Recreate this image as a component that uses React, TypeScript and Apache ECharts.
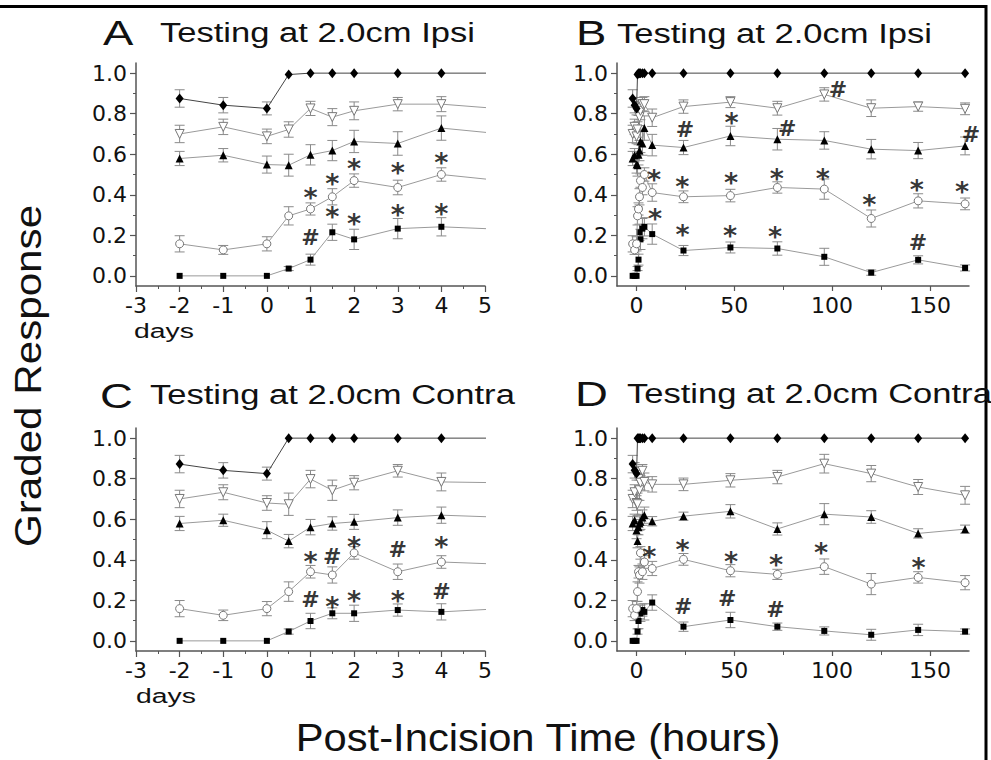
import React, { useEffect, useRef } from "react";
import * as echarts from "echarts";

// ---- data ----
const hours = [-2, -1, 0, 0.5, 1, 1.5, 2, 3, 4, 8, 24, 48, 72, 96, 120, 144, 168];

const ipsiDiamond = [0.875, 0.842, 0.826, 0.993, 1, 1, 1, 1, 1, 1, 1, 1, 1, 1, 1, 1, 1];
const ipsiDiamondErr = [0.043, 0.038, 0.032, 0, 0, 0, 0, 0, 0, 0, 0, 0, 0, 0, 0, 0, 0];
const ipsiInvTri = [0.70, 0.735, 0.688, 0.722, 0.826, 0.783, 0.814, 0.847, 0.847, 0.78, 0.835, 0.857, 0.827, 0.895, 0.827, 0.835, 0.824];
const ipsiInvTriErr = [0.043, 0.038, 0.036, 0.038, 0.035, 0.042, 0.044, 0.033, 0.037, 0.043, 0.033, 0.027, 0.034, 0.033, 0.041, 0.023, 0.029];
const ipsiTri = [0.579, 0.595, 0.549, 0.546, 0.597, 0.618, 0.663, 0.653, 0.729, 0.645, 0.633, 0.69, 0.674, 0.668, 0.625, 0.618, 0.641];
const ipsiTriErr = [0.035, 0.033, 0.042, 0.054, 0.05, 0.05, 0.055, 0.058, 0.06, 0.053, 0.035, 0.048, 0.053, 0.043, 0.048, 0.04, 0.044];
const ipsiCircle = [0.158, 0.128, 0.158, 0.296, 0.33, 0.39, 0.47, 0.436, 0.50, 0.411, 0.39, 0.396, 0.436, 0.428, 0.283, 0.37, 0.355];
const ipsiCircleErr = [0.04, 0.022, 0.035, 0.045, 0.03, 0.04, 0.033, 0.036, 0.033, 0.043, 0.029, 0.031, 0.028, 0.05, 0.042, 0.035, 0.029];
const ipsiSquare = [0, 0, 0, 0.036, 0.08, 0.215, 0.18, 0.233, 0.242, 0.206, 0.125, 0.14, 0.135, 0.094, 0.016, 0.079, 0.039];
const ipsiSquareErr = [0, 0, 0, 0.01, 0.027, 0.04, 0.05, 0.05, 0.045, 0.05, 0.025, 0.027, 0.033, 0.042, 0.013, 0.02, 0.015];

const contraDiamond = [0.872, 0.841, 0.825, 1, 1, 1, 1, 1, 1, 1, 1, 1, 1, 1, 1, 1, 1];
const contraDiamondErr = [0.043, 0.038, 0.032, 0, 0, 0, 0, 0, 0, 0, 0, 0, 0, 0, 0, 0, 0];
const contraInvTri = [0.70, 0.733, 0.68, 0.674, 0.798, 0.743, 0.78, 0.839, 0.784, 0.772, 0.772, 0.792, 0.808, 0.874, 0.825, 0.759, 0.718];
const contraInvTriErr = [0.043, 0.037, 0.036, 0.055, 0.043, 0.05, 0.035, 0.031, 0.044, 0.038, 0.031, 0.033, 0.033, 0.046, 0.04, 0.037, 0.044];
const contraTri = [0.579, 0.595, 0.546, 0.492, 0.561, 0.579, 0.587, 0.608, 0.62, 0.59, 0.615, 0.639, 0.552, 0.625, 0.611, 0.53, 0.551];
const contraTriErr = [0.035, 0.03, 0.042, 0.033, 0.038, 0.033, 0.037, 0.038, 0.04, 0.023, 0.02, 0.033, 0.03, 0.052, 0.031, 0.023, 0.02];
const contraCircle = [0.159, 0.126, 0.159, 0.243, 0.341, 0.325, 0.434, 0.341, 0.389, 0.357, 0.402, 0.346, 0.328, 0.366, 0.28, 0.313, 0.287];
const contraCircleErr = [0.04, 0.026, 0.035, 0.048, 0.031, 0.04, 0.031, 0.038, 0.031, 0.035, 0.029, 0.03, 0.025, 0.038, 0.052, 0.028, 0.035];
const contraSquare = [0, 0, 0, 0.046, 0.098, 0.136, 0.136, 0.152, 0.143, 0.189, 0.07, 0.103, 0.07, 0.049, 0.03, 0.054, 0.046];
const contraSquareErr = [0, 0, 0, 0.013, 0.038, 0.027, 0.04, 0.03, 0.04, 0.038, 0.023, 0.038, 0.018, 0.02, 0.027, 0.028, 0.013];

// significance marks: [x, y, symbol]
const annotA: [number, number, string][] = [
  [1, 0.413, "*"], [1.5, 0.479, "*"], [2, 0.553, "*"], [3, 0.535, "*"], [4, 0.584, "*"],
  [1, 0.191, "#"], [1.5, 0.317, "*"], [2, 0.281, "*"], [3, 0.326, "*"], [4, 0.331, "*"],
];
const annotB: [number, number, string][] = [
  [103, 0.921, "#"], [48.6, 0.783, "*"], [24.7, 0.72, "#"], [77, 0.729, "#"], [171, 0.696, "#"],
  [8.9, 0.498, "*"], [23.4, 0.465, "*"], [48.3, 0.485, "*"], [71.7, 0.507, "*"], [95.2, 0.507, "*"],
  [119, 0.375, "*"], [143.3, 0.449, "*"], [166.4, 0.441, "*"],
  [9.4, 0.309, "*"], [23.5, 0.23, "*"], [47.8, 0.224, "*"], [70.8, 0.219, "*"], [143.9, 0.166, "#"],
];
const annotC: [number, number, string][] = [
  [1, 0.415, "*"], [1.5, 0.418, "#"], [2, 0.489, "*"], [3, 0.451, "#"], [4, 0.489, "*"],
  [1, 0.202, "#"], [1.5, 0.193, "*"], [2, 0.226, "*"], [3, 0.226, "*"], [4, 0.243, "#"],
];
const annotD: [number, number, string][] = [
  [6.5, 0.439, "*"], [23.5, 0.477, "*"], [48.3, 0.418, "*"], [71.3, 0.402, "*"], [94.4, 0.461, "*"], [144.2, 0.385, "*"],
  [23.9, 0.169, "#"], [46.4, 0.21, "#"], [71, 0.156, "#"],
];

const yMajor = [0, 0.2, 0.4, 0.6, 0.8, 1.0];
const yMinor = [0.1, 0.3, 0.5, 0.7, 0.9];
const hourMajor = [0, 50, 100, 150];
const hourMinor = [25, 75, 125];

const titles = ["Testing at 2.0cm Ipsi", "Testing at 2.0cm Ipsi", "Testing at 2.0cm Contra", "Testing at 2.0cm Contra"];
const letters = ["A", "B", "C", "D"];

// ---- styles ----
const markerStyles = [
  { symbol: "rect", size: 6, fill: "#000", stroke: "#000", line: "#9a9a9a", rotate: 0 },
  { symbol: "circle", size: 8, fill: "#fff", stroke: "#777", line: "#9a9a9a", rotate: 0 },
  { symbol: "triangle", size: 8, fill: "#000", stroke: "#000", line: "#9a9a9a", rotate: 0 },
  { symbol: "triangle", size: 9, fill: "#fff", stroke: "#777", line: "#9a9a9a", rotate: 180 },
  { symbol: "diamond", size: [8, 10], fill: "#000", stroke: "#000", line: "#444", rotate: 0 },
];

const ipsiSets = [
  [ipsiSquare, ipsiSquareErr], [ipsiCircle, ipsiCircleErr], [ipsiTri, ipsiTriErr],
  [ipsiInvTri, ipsiInvTriErr], [ipsiDiamond, ipsiDiamondErr],
];
const contraSets = [
  [contraSquare, contraSquareErr], [contraCircle, contraCircleErr], [contraTri, contraTriErr],
  [contraInvTri, contraInvTriErr], [contraDiamond, contraDiamondErr],
];

const AX = "#555";
const TICKFONT = "DejaVu Sans";
const BIGFONT = "Liberation Sans";

export default function App() {
  const ref = useRef<HTMLDivElement>(null);
  useEffect(() => {
    if (!ref.current) return;
    const chart = echarts.init(ref.current, undefined, { renderer: "svg" });

    const grids = [
      { left: 136, top: 63, width: 349, height: 223 },
      { left: 617, top: 63, width: 352, height: 223 },
      { left: 136, top: 428, width: 349, height: 223 },
      { left: 617, top: 428, width: 352, height: 223 },
    ];

    const axisLine = { show: true, onZero: false, lineStyle: { color: AX, width: 1.5 } };
    const noLine = { show: false, onZero: false };
    const labelBase = { fontSize: 22, fontFamily: TICKFONT, color: "#111" };

    const xAxis: any[] = [];
    const yAxis: any[] = [];
    const panels: any[] = [];

    grids.forEach((g, gi) => {
      const isDays = gi === 0 || gi === 2;
      let xMain: number;
      if (isDays) {
        xMain = xAxis.length;
        xAxis.push({
          type: "value", gridIndex: gi, position: "bottom", min: -3, max: 5, interval: 1,
          axisLine, axisTick: { show: true, length: 6, lineStyle: { color: AX, width: 1.2 } },
          minorTick: { show: true, splitNumber: 2, length: 3, lineStyle: { color: AX, width: 1 } },
          axisLabel: { ...labelBase, margin: 8 },
          splitLine: { show: false }, minorSplitLine: { show: false },
        });
      } else {
        xMain = xAxis.length;
        xAxis.push({
          type: "value", gridIndex: gi, position: "bottom", min: -10, max: 170,
          axisLine,
          axisTick: { show: true, length: 5, customValues: hourMajor, lineStyle: { color: AX, width: 1.2 } },
          axisLabel: { ...labelBase, margin: 8, customValues: hourMajor },
          splitLine: { show: false },
        });
        xAxis.push({
          type: "value", gridIndex: gi, position: "bottom", min: -10, max: 170,
          axisLine: noLine,
          axisTick: { show: true, length: 4, customValues: hourMinor, lineStyle: { color: AX, width: 1 } },
          axisLabel: { show: false },
          splitLine: { show: false },
        });
      }
      const yMain = yAxis.length;
      yAxis.push({
        type: "value", gridIndex: gi, position: "left", min: -0.05, max: 1.05,
        axisLine,
        axisTick: { show: true, length: 6, customValues: yMajor, lineStyle: { color: AX, width: 1.2 } },
        axisLabel: { ...labelBase, margin: 9, customValues: yMajor, formatter: (v: number) => v.toFixed(1) },
        splitLine: { show: false },
      });
      yAxis.push({
        type: "value", gridIndex: gi, position: "left", min: -0.05, max: 1.05,
        axisLine: noLine,
        axisTick: { show: true, length: 3, customValues: yMinor, lineStyle: { color: AX, width: 1 } },
        axisLabel: { show: false },
        splitLine: { show: false },
      });
      panels.push({
        xIdx: xMain, yIdx: yMain,
        xmin: isDays ? -3 : -10, xmax: isDays ? 5 : 170,
        sets: gi < 2 ? ipsiSets : contraSets,
        annot: [annotA, annotB, annotC, annotD][gi],
      });
    });

    const series: any[] = [];
    panels.forEach((p) => {
      p.sets.forEach((set: number[][], si: number) => {
        const [vals, errs] = set;
        const ms = markerStyles[si];
        series.push({
          type: "custom", xAxisIndex: p.xIdx, yAxisIndex: p.yIdx, z: 1, silent: true,
          data: hours.map((h, i) => [h, vals[i], errs[i]]),
          renderItem: (params: any, api: any) => {
            const x = api.value(0), y = api.value(1), e = api.value(2);
            if (!(e > 0) || x < p.xmin || x > p.xmax) return null;
            const t = api.coord([x, y + e]);
            const b = api.coord([x, y - e]);
            const hw = 5;
            const st = { stroke: "#8a8a8a", lineWidth: 1 };
            return {
              type: "group",
              children: [
                { type: "line", shape: { x1: t[0], y1: t[1], x2: b[0], y2: b[1] }, style: st },
                { type: "line", shape: { x1: t[0] - hw, y1: t[1], x2: t[0] + hw, y2: t[1] }, style: st },
                { type: "line", shape: { x1: b[0] - hw, y1: b[1], x2: b[0] + hw, y2: b[1] }, style: st },
              ],
            };
          },
        });
        series.push({
          type: "line", xAxisIndex: p.xIdx, yAxisIndex: p.yIdx, z: 2 + si, silent: true,
          clip: true,
          data: hours.map((h, i) => [h, vals[i]]),
          symbol: ms.symbol, symbolSize: ms.size, symbolRotate: ms.rotate, showAllSymbol: true,
          itemStyle: { color: ms.fill, borderColor: ms.stroke, borderWidth: ms.fill === "#fff" ? 1 : 0 },
          lineStyle: { color: ms.line, width: 1 },
        });
      });
      series.push({
        type: "scatter", xAxisIndex: p.xIdx, yAxisIndex: p.yIdx, z: 10, silent: true, clip: false,
        symbol: "circle", symbolSize: 1, itemStyle: { color: "rgba(0,0,0,0)" },
        data: p.annot.map((a: [number, number, string]) => ({
          value: [a[0], a[1]], name: a[2],
          label: { fontSize: a[2] === "*" ? 27 : 22, offset: a[2] === "*" ? [0, 5] : [0, 0] },
        })),
        label: {
          show: true, position: "inside", formatter: "{b}",
          fontFamily: TICKFONT, fontWeight: "bold", color: "#000",
        },
      });
    });

    const txt = (text: string, x: number, y: number, fontSize: number, scaleX: number, align = "left", rotation = 0) => ({
      type: "text", x, y, scaleX, rotation, silent: true,
      style: {
        text, fontSize, fontFamily: BIGFONT, fill: "#111",
        align, verticalAlign: "middle", textAlign: align, textVerticalAlign: "middle",
      },
    });

    const letterPos = [[103, 33], [576, 33], [100, 396], [575, 394]];
    const titlePos = [[160, 33], [617, 34], [150, 395], [627, 393.5]];
    const graphic: any[] = [
      { type: "line", silent: true, shape: { x1: 0, y1: 6.5, x2: 987, y2: 6.5 }, style: { stroke: "#000", lineWidth: 3 } },
      { type: "line", silent: true, shape: { x1: 986, y1: 5, x2: 986, y2: 760 }, style: { stroke: "#000", lineWidth: 3 } },
      txt("Graded Response", 28, 376, 37, 1.14, "center", Math.PI / 2),
      txt("Post-Incision Time (hours)", 538, 737, 39, 1.07, "center"),
      txt("days", 134, 330, 21, 1.35),
      txt("days", 136, 695, 21, 1.35),
    ];
    letters.forEach((l, i) => graphic.push(txt(l, letterPos[i][0], letterPos[i][1], 35, 1.3)));
    titles.forEach((t, i) => graphic.push(txt(t, titlePos[i][0], titlePos[i][1], 27, 1.28)));

    chart.setOption({
      animation: false,
      backgroundColor: "#fff",
      grid: grids,
      xAxis,
      yAxis,
      series,
      graphic,
    });
    return () => chart.dispose();
  }, []);
  return <div ref={ref} style={{ position: "fixed", left: 0, top: 0, width: 991, height: 760, background: "#fff" }} />;
}
